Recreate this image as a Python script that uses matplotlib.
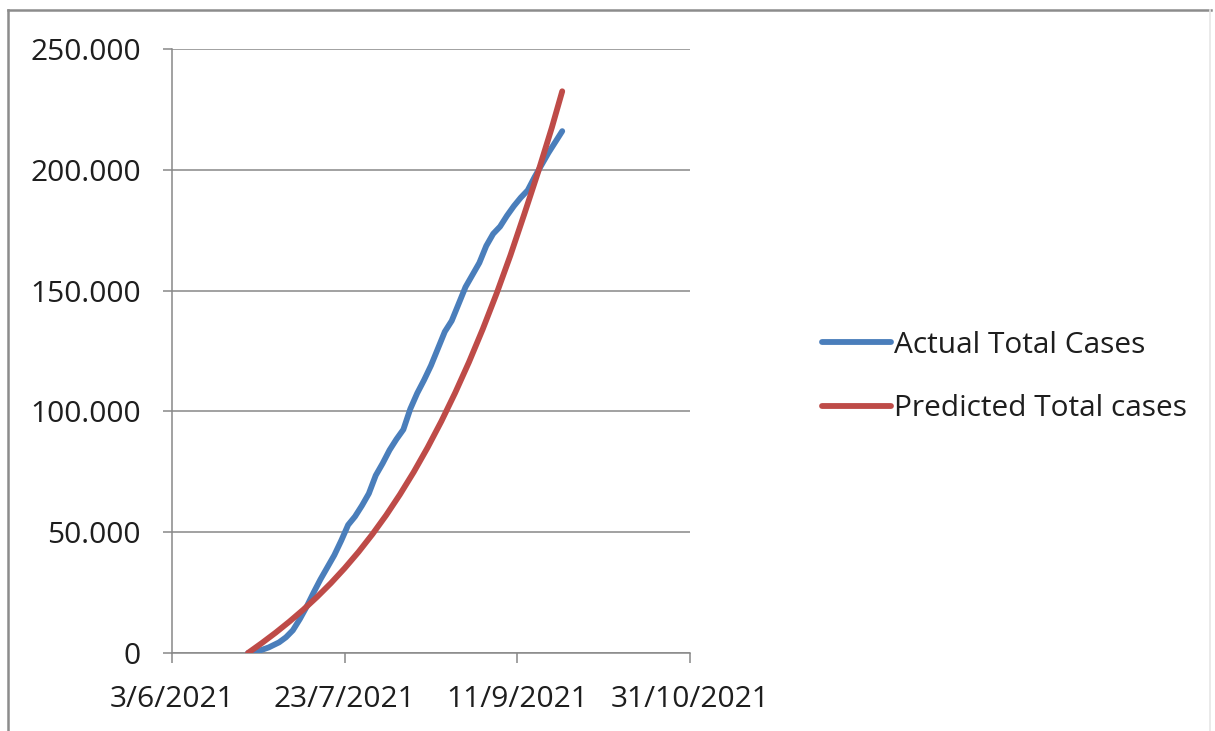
import matplotlib
matplotlib.use("Agg")
import matplotlib.pyplot as plt
from matplotlib.lines import Line2D
from matplotlib.ticker import FuncFormatter
import pandas as pd

# Cumulative confirmed cases (actual) by date
actual_dates = [
    "2021-06-25", "2021-06-28", "2021-07-01", "2021-07-04", "2021-07-06",
    "2021-07-08", "2021-07-10", "2021-07-12", "2021-07-14", "2021-07-16",
    "2021-07-18", "2021-07-20", "2021-07-22", "2021-07-24", "2021-07-26",
    "2021-07-28", "2021-07-30", "2021-08-01", "2021-08-03", "2021-08-05",
    "2021-08-07", "2021-08-09", "2021-08-11", "2021-08-13", "2021-08-15",
    "2021-08-17", "2021-08-19", "2021-08-21", "2021-08-23", "2021-08-25",
    "2021-08-27", "2021-08-29", "2021-08-31", "2021-09-02", "2021-09-04",
    "2021-09-06", "2021-09-08", "2021-09-10", "2021-09-12", "2021-09-14",
    "2021-09-16", "2021-09-18", "2021-09-20", "2021-09-22", "2021-09-24",
]
actual_cases = [
    0, 800, 2300, 4400, 6500,
    9400, 14000, 19200, 25000, 30500,
    35500, 40500, 46500, 53000, 56500,
    61000, 66000, 73500, 78500, 84000,
    88500, 92500, 101000, 107500, 113000,
    119000, 126000, 133000, 137500, 144500,
    151500, 156500, 161500, 168500, 173500,
    176500, 181000, 185000, 188500, 191500,
    197000, 202000, 207000, 211500, 216000,
]

# Model output (predicted cumulative cases) by date
predicted_dates = [
    "2021-06-25", "2021-06-29", "2021-07-03", "2021-07-07", "2021-07-11",
    "2021-07-15", "2021-07-19", "2021-07-23", "2021-07-27", "2021-07-31",
    "2021-08-04", "2021-08-08", "2021-08-12", "2021-08-16", "2021-08-20",
    "2021-08-24", "2021-08-28", "2021-09-01", "2021-09-05", "2021-09-09",
    "2021-09-13", "2021-09-17", "2021-09-21", "2021-09-24",
]
predicted_cases = [
    0, 4100, 8400, 13000, 17900,
    23200, 28900, 35100, 41800, 49100,
    57000, 65600, 74900, 85000, 95900,
    107700, 120400, 134100, 148800, 164600,
    181600, 199000, 217500, 232500,
]

series_labels = ["Actual Total Cases", "Predicted Total cases"]
tick_dates = ["2021-06-03", "2021-07-23", "2021-09-11", "2021-10-31"]
tick_labels = ["3/6/2021", "23/7/2021", "11/9/2021", "31/10/2021"]
y_ticks = [0, 50000, 100000, 150000, 200000, 250000]

BLUE = "#4A7EBB"
RED = "#BE4B48"
GRID = "#888888"
TEXT = "#1e1e1e"
FONT = ["Open Sans", "DejaVu Sans"]
FS = 21.5

plt.rcParams["font.family"] = FONT

fig = plt.figure(figsize=(12.15, 7.31), dpi=100)
fig.patch.set_facecolor("white")

# Outer chart frame: top and left edges, faint right edge
W, H = 1215, 731
fig.add_artist(Line2D([8 / W, 1211 / W], [1 - 10 / H, 1 - 10 / H],
                      transform=fig.transFigure, color="#8c8c8c", linewidth=1.8))
fig.add_artist(Line2D([8 / W, 8 / W], [1 - 10 / H, 0], transform=fig.transFigure,
                      color="#8c8c8c", linewidth=1.8))
fig.add_artist(Line2D([1210 / W, 1210 / W], [1 - 10 / H, 0], transform=fig.transFigure,
                      color="#e6e6e6", linewidth=1.2))

ax = fig.add_axes([172 / W, 1 - 653 / H, (690 - 172) / W, (653 - 49) / H])

ad = pd.to_datetime(actual_dates)
pdates = pd.to_datetime(predicted_dates)
ax.plot(ad, actual_cases, color=BLUE, linewidth=4.2, solid_capstyle="round",
        solid_joinstyle="round", label=series_labels[0], zorder=3)
ax.plot(pdates, predicted_cases, color=RED, linewidth=4.2, solid_capstyle="round",
        solid_joinstyle="round", label=series_labels[1], zorder=4)

tdates = pd.to_datetime(tick_dates)
ax.set_xlim(tdates[0], tdates[-1])
ax.set_xticks(tdates)
ax.set_xticklabels(tick_labels)
ax.set_ylim(0, 250000)
ax.set_yticks(y_ticks)
ax.yaxis.set_major_formatter(FuncFormatter(lambda v, p: f"{int(v):,}".replace(",", ".")))

ax.grid(axis="y", color=GRID, linewidth=1.1)
ax.set_axisbelow(True)
for side in ("top", "right"):
    ax.spines[side].set_visible(False)
for side in ("left", "bottom"):
    ax.spines[side].set_color(GRID)
    ax.spines[side].set_linewidth(1.1)

ax.tick_params(axis="y", direction="out", length=6.5, width=1.1, color=GRID,
               labelsize=FS, labelcolor=TEXT, pad=16)
ax.tick_params(axis="x", direction="out", length=7, width=1.1, color=GRID,
               labelsize=FS, labelcolor=TEXT, pad=16)

leg = fig.legend(loc="center left", bbox_to_anchor=(822 / W, 1 - 377 / H),
                 frameon=False, fontsize=FS, handlelength=2.3, handletextpad=0.1,
                 labelspacing=1.15, borderaxespad=0, borderpad=0)
for t in leg.get_texts():
    t.set_color(TEXT)

fig.savefig("out.png", dpi=100, facecolor="white")
